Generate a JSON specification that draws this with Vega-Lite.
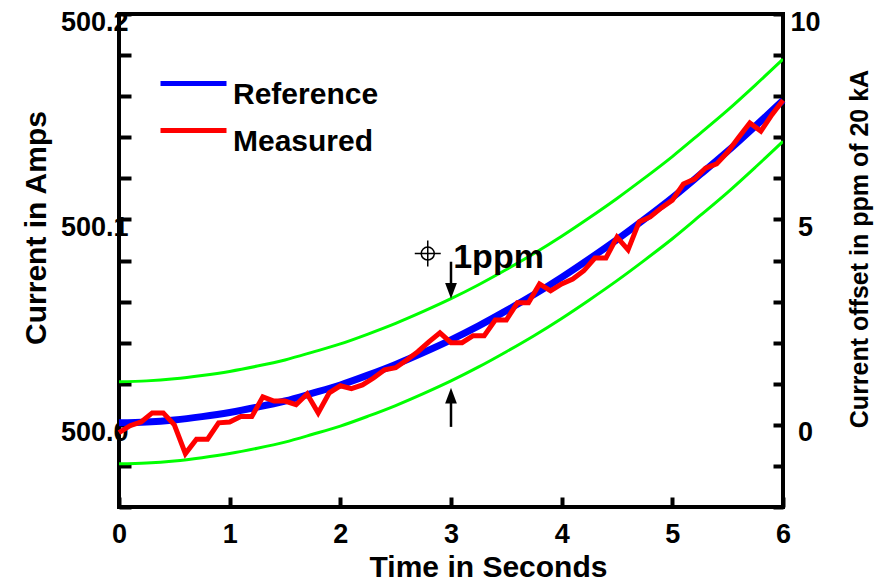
{
  "$schema": "https://vega.github.io/schema/vega-lite/v6.json",
  "width": 664,
  "height": 493,
  "autosize": "none",
  "padding": {"left": 119, "top": 14, "right": 107, "bottom": 76},
  "background": "white",
  "config": {
    "view": {"stroke": "black", "strokeWidth": 4},
    "axis": {
      "domain": false, "grid": false, "ticks": true, "tickColor": "black", "tickWidth": 4,
      "labelFont": "Liberation Sans", "labelFontWeight": "bold", "labelFontSize": 27, "labelColor": "black",
      "titleFont": "Liberation Sans", "titleFontWeight": "bold", "titleFontSize": 30, "titleColor": "black",
      "labelFlush": false, "labelOverlap": false
    },
    "legend": {
      "orient": "none", "legendX": 39, "legendY": 61, "padding": 0,
      "symbolType": "M-1,-0.35L1,-0.35", "symbolSize": 4356, "symbolStrokeWidth": 5, "symbolFillColor": "transparent",
      "labelFont": "Liberation Sans", "labelFontWeight": "bold", "labelFontSize": 30, "labelColor": "black",
      "labelOffset": 4, "clipHeight": 40, "rowPadding": 7, "labelLimit": 400
    }
  },
  "datasets": {
    "curves": [
      {"series": "Reference", "time": 0, "ppm": 0.05}, {"series": "Reference", "time": 0.25, "ppm": 0.07},
      {"series": "Reference", "time": 0.5, "ppm": 0.12}, {"series": "Reference", "time": 0.75, "ppm": 0.2},
      {"series": "Reference", "time": 1, "ppm": 0.3}, {"series": "Reference", "time": 1.25, "ppm": 0.43},
      {"series": "Reference", "time": 1.5, "ppm": 0.58}, {"series": "Reference", "time": 1.75, "ppm": 0.77},
      {"series": "Reference", "time": 2, "ppm": 0.97}, {"series": "Reference", "time": 2.25, "ppm": 1.21},
      {"series": "Reference", "time": 2.5, "ppm": 1.47}, {"series": "Reference", "time": 2.75, "ppm": 1.76},
      {"series": "Reference", "time": 3, "ppm": 2.07}, {"series": "Reference", "time": 3.25, "ppm": 2.41},
      {"series": "Reference", "time": 3.5, "ppm": 2.78}, {"series": "Reference", "time": 3.75, "ppm": 3.17},
      {"series": "Reference", "time": 4, "ppm": 3.59}, {"series": "Reference", "time": 4.25, "ppm": 4.04},
      {"series": "Reference", "time": 4.5, "ppm": 4.51}, {"series": "Reference", "time": 4.75, "ppm": 5.01},
      {"series": "Reference", "time": 5, "ppm": 5.53}, {"series": "Reference", "time": 5.25, "ppm": 6.09},
      {"series": "Reference", "time": 5.5, "ppm": 6.66}, {"series": "Reference", "time": 5.75, "ppm": 7.27},
      {"series": "Reference", "time": 6, "ppm": 7.9},
      {"series": "Upper", "time": 0, "ppm": 1.05}, {"series": "Upper", "time": 0.25, "ppm": 1.07},
      {"series": "Upper", "time": 0.5, "ppm": 1.12}, {"series": "Upper", "time": 0.75, "ppm": 1.2},
      {"series": "Upper", "time": 1, "ppm": 1.3}, {"series": "Upper", "time": 1.25, "ppm": 1.43},
      {"series": "Upper", "time": 1.5, "ppm": 1.58}, {"series": "Upper", "time": 1.75, "ppm": 1.77},
      {"series": "Upper", "time": 2, "ppm": 1.97}, {"series": "Upper", "time": 2.25, "ppm": 2.21},
      {"series": "Upper", "time": 2.5, "ppm": 2.47}, {"series": "Upper", "time": 2.75, "ppm": 2.76},
      {"series": "Upper", "time": 3, "ppm": 3.07}, {"series": "Upper", "time": 3.25, "ppm": 3.41},
      {"series": "Upper", "time": 3.5, "ppm": 3.78}, {"series": "Upper", "time": 3.75, "ppm": 4.17},
      {"series": "Upper", "time": 4, "ppm": 4.59}, {"series": "Upper", "time": 4.25, "ppm": 5.04},
      {"series": "Upper", "time": 4.5, "ppm": 5.51}, {"series": "Upper", "time": 4.75, "ppm": 6.01},
      {"series": "Upper", "time": 5, "ppm": 6.53}, {"series": "Upper", "time": 5.25, "ppm": 7.09},
      {"series": "Upper", "time": 5.5, "ppm": 7.66}, {"series": "Upper", "time": 5.75, "ppm": 8.27},
      {"series": "Upper", "time": 6, "ppm": 8.9},
      {"series": "Lower", "time": 0, "ppm": -0.95}, {"series": "Lower", "time": 0.25, "ppm": -0.93},
      {"series": "Lower", "time": 0.5, "ppm": -0.88}, {"series": "Lower", "time": 0.75, "ppm": -0.8},
      {"series": "Lower", "time": 1, "ppm": -0.7}, {"series": "Lower", "time": 1.25, "ppm": -0.57},
      {"series": "Lower", "time": 1.5, "ppm": -0.42}, {"series": "Lower", "time": 1.75, "ppm": -0.23},
      {"series": "Lower", "time": 2, "ppm": -0.03}, {"series": "Lower", "time": 2.25, "ppm": 0.21},
      {"series": "Lower", "time": 2.5, "ppm": 0.47}, {"series": "Lower", "time": 2.75, "ppm": 0.76},
      {"series": "Lower", "time": 3, "ppm": 1.07}, {"series": "Lower", "time": 3.25, "ppm": 1.41},
      {"series": "Lower", "time": 3.5, "ppm": 1.78}, {"series": "Lower", "time": 3.75, "ppm": 2.17},
      {"series": "Lower", "time": 4, "ppm": 2.59}, {"series": "Lower", "time": 4.25, "ppm": 3.04},
      {"series": "Lower", "time": 4.5, "ppm": 3.51}, {"series": "Lower", "time": 4.75, "ppm": 4.01},
      {"series": "Lower", "time": 5, "ppm": 4.53}, {"series": "Lower", "time": 5.25, "ppm": 5.09},
      {"series": "Lower", "time": 5.5, "ppm": 5.66}, {"series": "Lower", "time": 5.75, "ppm": 6.27},
      {"series": "Lower", "time": 6, "ppm": 6.9},
      {"series": "Measured", "time": 0, "ppm": -0.19}, {"series": "Measured", "time": 0.1, "ppm": -0.02},
      {"series": "Measured", "time": 0.2, "ppm": 0.07}, {"series": "Measured", "time": 0.3, "ppm": 0.29},
      {"series": "Measured", "time": 0.4, "ppm": 0.29}, {"series": "Measured", "time": 0.5, "ppm": 0.0},
      {"series": "Measured", "time": 0.6, "ppm": -0.7}, {"series": "Measured", "time": 0.7, "ppm": -0.35},
      {"series": "Measured", "time": 0.8, "ppm": -0.35}, {"series": "Measured", "time": 0.9, "ppm": 0.05},
      {"series": "Measured", "time": 1.0, "ppm": 0.07}, {"series": "Measured", "time": 1.1, "ppm": 0.2},
      {"series": "Measured", "time": 1.2, "ppm": 0.2}, {"series": "Measured", "time": 1.3, "ppm": 0.68},
      {"series": "Measured", "time": 1.4, "ppm": 0.58}, {"series": "Measured", "time": 1.5, "ppm": 0.58},
      {"series": "Measured", "time": 1.6, "ppm": 0.49}, {"series": "Measured", "time": 1.7, "ppm": 0.75},
      {"series": "Measured", "time": 1.8, "ppm": 0.29}, {"series": "Measured", "time": 1.9, "ppm": 0.78},
      {"series": "Measured", "time": 2.0, "ppm": 0.95}, {"series": "Measured", "time": 2.1, "ppm": 0.88},
      {"series": "Measured", "time": 2.2, "ppm": 0.97}, {"series": "Measured", "time": 2.3, "ppm": 1.14},
      {"series": "Measured", "time": 2.4, "ppm": 1.34}, {"series": "Measured", "time": 2.5, "ppm": 1.39},
      {"series": "Measured", "time": 2.6, "ppm": 1.58}, {"series": "Measured", "time": 2.7, "ppm": 1.78},
      {"series": "Measured", "time": 2.8, "ppm": 2.02}, {"series": "Measured", "time": 2.9, "ppm": 2.24},
      {"series": "Measured", "time": 3.0, "ppm": 2.0}, {"series": "Measured", "time": 3.1, "ppm": 2.0},
      {"series": "Measured", "time": 3.2, "ppm": 2.17}, {"series": "Measured", "time": 3.3, "ppm": 2.17},
      {"series": "Measured", "time": 3.4, "ppm": 2.55}, {"series": "Measured", "time": 3.5, "ppm": 2.55},
      {"series": "Measured", "time": 3.6, "ppm": 2.97}, {"series": "Measured", "time": 3.7, "ppm": 2.97},
      {"series": "Measured", "time": 3.8, "ppm": 3.43}, {"series": "Measured", "time": 3.9, "ppm": 3.26},
      {"series": "Measured", "time": 4.0, "ppm": 3.43}, {"series": "Measured", "time": 4.1, "ppm": 3.55},
      {"series": "Measured", "time": 4.2, "ppm": 3.75}, {"series": "Measured", "time": 4.3, "ppm": 4.06},
      {"series": "Measured", "time": 4.4, "ppm": 4.06}, {"series": "Measured", "time": 4.5, "ppm": 4.57},
      {"series": "Measured", "time": 4.6, "ppm": 4.26}, {"series": "Measured", "time": 4.7, "ppm": 4.94},
      {"series": "Measured", "time": 4.8, "ppm": 5.06}, {"series": "Measured", "time": 4.9, "ppm": 5.28},
      {"series": "Measured", "time": 5.0, "ppm": 5.47}, {"series": "Measured", "time": 5.1, "ppm": 5.86},
      {"series": "Measured", "time": 5.2, "ppm": 5.98}, {"series": "Measured", "time": 5.3, "ppm": 6.25},
      {"series": "Measured", "time": 5.4, "ppm": 6.35}, {"series": "Measured", "time": 5.5, "ppm": 6.64},
      {"series": "Measured", "time": 5.6, "ppm": 7.0}, {"series": "Measured", "time": 5.7, "ppm": 7.35},
      {"series": "Measured", "time": 5.8, "ppm": 7.15}, {"series": "Measured", "time": 5.9, "ppm": 7.55},
      {"series": "Measured", "time": 6.0, "ppm": 7.9}
    ]
  },
  "resolve": {"axis": {"x": "independent", "y": "independent"}},
  "layer": [
    {
      "data": {"name": "curves"},
      "transform": [{"filter": "datum.series === 'Upper' || datum.series === 'Lower'"}],
      "mark": {"type": "line", "color": "#00ff00", "strokeWidth": 3, "interpolate": "monotone", "clip": true},
      "encoding": {
        "x": {"field": "time", "type": "quantitative",
          "scale": {"domain": [0, 6], "nice": false, "zero": false},
          "axis": {"orient": "bottom", "title": "Time in Seconds", "values": [0, 1, 2, 3, 4, 5, 6], "format": "d",
            "tickSize": -10, "labelPadding": 24,
            "titleX": 369, "titleY": 69, "titleAlign": "center", "titleBaseline": "alphabetic"}},
        "y": {"field": "ppm", "type": "quantitative",
          "scale": {"domain": [-2, 10], "nice": false, "zero": false},
          "axis": {"orient": "left", "title": "Current in Amps",
            "values": [-2, -1, 0, 1, 2, 3, 4, 5, 6, 7, 8, 9, 10],
            "tickSize": -12, "labelPadding": 3, "labelAlign": "right", "labelBaseline": "middle", "labelOffset": 8,
            "labelExpr": "datum.value % 5 === 0 ? format(500 + datum.value * 0.02, '.1f') : ''",
            "titleAngle": 270, "titleX": -74, "titleY": 213.5, "titleAlign": "center", "titleBaseline": "alphabetic"}},
        "detail": {"field": "series"}
      }
    },
    {
      "data": {"name": "curves"},
      "transform": [{"filter": "datum.series === 'Reference'"}],
      "mark": {"type": "line", "strokeWidth": 7, "interpolate": "monotone"},
      "encoding": {
        "x": {"field": "time", "type": "quantitative", "axis": null},
        "y": {"field": "ppm", "type": "quantitative",
          "axis": {"orient": "right", "title": "Current offset in ppm of 20 kA",
            "values": [-2, -1, 0, 1, 2, 3, 4, 5, 6, 7, 8, 9, 10],
            "tickSize": -10, "labelPadding": 32, "labelAlign": "center", "labelBaseline": "middle", "labelOffset": 8,
            "labelExpr": "datum.value % 5 === 0 ? datum.label : ''",
            "titleFontSize": 25,
            "titleAngle": 270, "titleX": 84, "titleY": 234.5, "titleAlign": "center", "titleBaseline": "alphabetic"}},
        "color": {"field": "series", "type": "nominal",
          "scale": {"domain": ["Reference", "Measured"], "range": ["#0000ff", "#ff0000"]},
          "legend": {"title": null}}
      }
    },
    {
      "data": {"name": "curves"},
      "transform": [{"filter": "datum.series === 'Measured'"}],
      "mark": {"type": "line", "strokeWidth": 5},
      "encoding": {
        "x": {"field": "time", "type": "quantitative", "axis": null},
        "y": {"field": "ppm", "type": "quantitative", "axis": null},
        "color": {"field": "series", "type": "nominal"}
      }
    },
    {
      "data": {"values": [{}]},
      "mark": {"type": "rule", "color": "black", "strokeWidth": 2.5},
      "encoding": {
        "x": {"datum": 3, "type": "quantitative", "axis": null},
        "y": {"datum": 3.97, "type": "quantitative", "axis": null},
        "y2": {"datum": 3.4}
      }
    },
    {
      "data": {"values": [{}]},
      "mark": {"type": "point", "shape": "M0,0L-0.45,-1.2L0.45,-1.2Z", "size": 676, "filled": true, "color": "black", "opacity": 1},
      "encoding": {
        "x": {"datum": 3, "type": "quantitative", "axis": null},
        "y": {"datum": 3.07, "type": "quantitative", "axis": null}
      }
    },
    {
      "data": {"values": [{}]},
      "mark": {"type": "rule", "color": "black", "strokeWidth": 2.5},
      "encoding": {
        "x": {"datum": 3, "type": "quantitative", "axis": null},
        "y": {"datum": -0.05, "type": "quantitative", "axis": null},
        "y2": {"datum": 0.6}
      }
    },
    {
      "data": {"values": [{}]},
      "mark": {"type": "point", "shape": "M0,0L-0.45,1.2L0.45,1.2Z", "size": 676, "filled": true, "color": "black", "opacity": 1},
      "encoding": {
        "x": {"datum": 3, "type": "quantitative", "axis": null},
        "y": {"datum": 0.9, "type": "quantitative", "axis": null}
      }
    },
    {
      "data": {"values": [{}]},
      "mark": {"type": "point", "shape": "circle", "size": 169, "filled": false, "color": "black", "strokeWidth": 1.5, "opacity": 1},
      "encoding": {
        "x": {"datum": 2.79, "type": "quantitative", "axis": null},
        "y": {"datum": 4.17, "type": "quantitative", "axis": null}
      }
    },
    {
      "data": {"values": [{}]},
      "mark": {"type": "point", "shape": "M-1,0L1,0M0,-1L0,1", "size": 676, "filled": false, "color": "black", "strokeWidth": 1.5, "opacity": 1},
      "encoding": {
        "x": {"datum": 2.79, "type": "quantitative", "axis": null},
        "y": {"datum": 4.17, "type": "quantitative", "axis": null}
      }
    },
    {
      "data": {"values": [{}]},
      "mark": {"type": "text", "text": "1ppm", "font": "Liberation Sans", "fontWeight": "bold", "fontSize": 34, "align": "left", "baseline": "alphabetic", "color": "black"},
      "encoding": {
        "x": {"datum": 3.02, "type": "quantitative", "axis": null},
        "y": {"datum": 3.82, "type": "quantitative", "axis": null}
      }
    }
  ]
}
